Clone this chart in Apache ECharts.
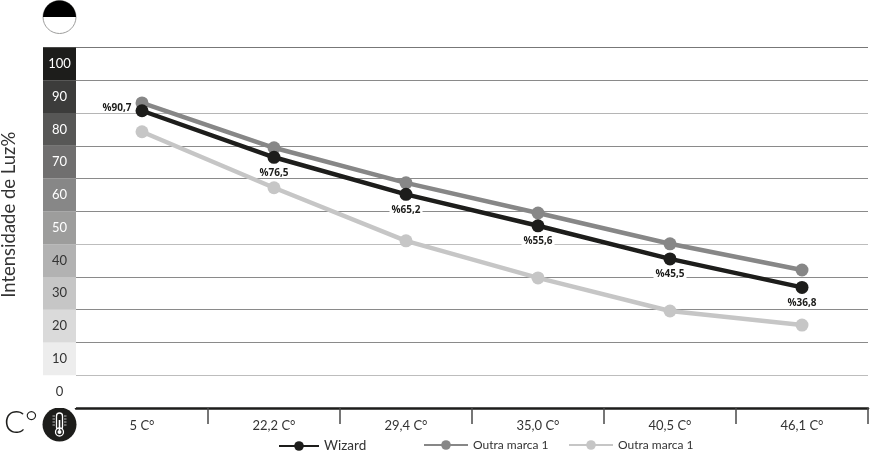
<html>
<head>
    <meta charset="utf-8">
    <title>Intensidade de Luz</title>
    <script src="https://cdn.jsdelivr.net/npm/echarts@6/dist/echarts.min.js"></script>
    <style>html,body{margin:0;padding:0;background:#fff;}</style>
</head>
<body>
    <div id="main" style="width: 870px;height:452px;"></div>
    <script type="text/javascript">
        var myChart = echarts.init(document.getElementById('main'));

        var categories = ['5 C°', '22,2 C°', '29,4 C°', '35,0 C°', '40,5 C°', '46,1 C°'];
        var wizard = [90.7, 76.5, 65.2, 55.6, 45.5, 36.8];
        var marcaEscura = [93.1, 79.4, 68.7, 59.5, 50.1, 42.1];
        var marcaClara = [84.3, 67.2, 51, 39.7, 29.6, 25.3];
        var bandLabels = ['0', '10', '20', '30', '40', '50', '60', '70', '80', '90', '100'];
        var bandColors = ['#ffffff', '#ededed', '#dadada', '#c6c6c6', '#b2b2b2', '#9d9d9c', '#878787', '#706f6f', '#575756', '#3c3c3b', '#1d1d1b'];

        var fontName = 'Lato';

        function lineSeries(name, values, color, z) {
            return {
                name: name,
                type: 'line',
                xAxisIndex: 0,
                yAxisIndex: 0,
                z: z,
                data: values,
                symbol: 'circle',
                symbolSize: 13,
                animation: false,
                lineStyle: { color: color, width: 4.5 },
                itemStyle: { color: color }
            };
        }

        // rotulos da Wizard: o primeiro fica a esquerda, os outros embaixo
        var wizardSeries = lineSeries('Wizard', wizard.map(function (v, i) {
            return {
                value: v,
                label: {
                    show: true,
                    position: i === 0 ? 'left' : 'bottom',
                    distance: i === 0 ? 2 : 4,
                    offset: i === 0 ? [0, -3] : [0, 0],
                    formatter: '%' + String(v).replace('.', ','),
                    fontFamily: 'Open Sans',
                    fontSize: 10,
                    fontWeight: 'bold',
                    color: '#1d1d1b',
                    backgroundColor: '#fff',
                    padding: [0, 2]
                }
            };
        }), '#1d1d1b', 5);

        function legendItem(name, left, width, size) {
            return {
                left: left,
                top: 439,
                padding: 0,
                itemWidth: width,
                itemHeight: 12,
                data: [name],
                // os dois "Outra marca 1" precisam de nomes distintos para a legenda
                formatter: function (n) { return n.trim(); },
                textStyle: { fontFamily: fontName, fontSize: size, color: '#333' }
            };
        }

        var option = {
            animation: false,
            legend: [
                legendItem('Wizard', 278, 40, 13.5),
                legendItem('Outra marca 1', 423, 44, 12),
                legendItem('Outra marca 1 ', 568, 44, 12)
            ],
            grid: [
                { left: 76, top: 47.5, width: 792, height: 360.5, outerBoundsMode: 'none' },
                { left: 43, top: 47.5, width: 33, height: 360.5, outerBoundsMode: 'none' }
            ],
            xAxis: [
                {
                    type: 'category',
                    gridIndex: 0,
                    data: categories,
                    axisLine: { lineStyle: { color: '#1d1d1b', width: 2.5 } },
                    axisTick: {
                        show: true,
                        length: 16,
                        interval: function (i) { return i !== 0; },
                        lineStyle: { color: '#4a4a49', width: 1.5 }
                    },
                    axisLabel: { margin: 11, fontFamily: fontName, fontSize: 13, color: '#333' }
                },
                { type: 'value', gridIndex: 1, show: false }
            ],
            yAxis: [
                {
                    type: 'value',
                    gridIndex: 0,
                    min: 0,
                    max: 110,
                    interval: 10,
                    name: 'İntensidade de Luz%',
                    nameLocation: 'middle',
                    nameGap: 57,
                    nameTextStyle: { fontFamily: fontName, fontSize: 18.5, fontWeight: 400, color: '#333', padding: [0, 0, 0, 26] },
                    axisLine: { show: false },
                    axisTick: { show: false },
                    axisLabel: { show: false },
                    splitLine: {
                        show: true,
                        lineStyle: { color: ['#000', '#bdbdbd', '#8a8a8a', '#8a8a8a', '#8a8a8a', '#bdbdbd', '#8a8a8a', '#8a8a8a', '#8a8a8a', '#b5b5b5', '#8a8a8a', '#777'], width: 1 }
                    }
                },
                {
                    type: 'category',
                    gridIndex: 1,
                    data: bandLabels,
                    z: 5,
                    axisLine: { show: false },
                    axisTick: { show: false },
                    axisLabel: {
                        inside: true,
                        align: 'center',
                        margin: 16.5,
                        fontFamily: fontName,
                        fontSize: 13,
                        color: function (v, i) {
                            return i >= 5 ? '#ffffff' : '#333333';
                        }
                    },
                    splitArea: { show: true, areaStyle: { color: bandColors, opacity: 1 } }
                }
            ],
            series: [
                lineSeries('Outra marca 1 ', marcaClara, '#c6c6c6', 2),
                lineSeries('Outra marca 1', marcaEscura, '#878787', 3),
                wizardSeries
            ],
            graphic: [
                // linha de cima continua sobre a coluna de cinzas
                { type: 'line', shape: { x1: 43, y1: 47.5, x2: 76, y2: 47.5 }, style: { stroke: '#777', lineWidth: 1 } },
                // semicirculo preto e branco no topo
                { type: 'circle', shape: { cx: 59.5, cy: 17, r: 16.5 }, style: { fill: '#fff', stroke: '#9d9d9c', lineWidth: 1 } },
                { type: 'sector', shape: { cx: 59.5, cy: 17, r: 16.5, r0: 0, startAngle: Math.PI, endAngle: Math.PI * 2 }, style: { fill: '#000' } },
                { type: 'text', left: 4, top: 407, style: { text: 'C°', font: '300 31px Lato', fill: '#1d1d1b' } },
                // termometro
                { type: 'circle', shape: { cx: 59.5, cy: 424.5, r: 17 }, style: { fill: '#1d1d1b' } },
                { type: 'rect', shape: { x: 56.5, y: 413, width: 6, height: 17, r: 3 }, style: { fill: '#1d1d1b', stroke: '#fff', lineWidth: 1.3 } },
                { type: 'circle', shape: { cx: 59.5, cy: 432, r: 4 }, style: { fill: '#1d1d1b', stroke: '#fff', lineWidth: 1.3 } },
                { type: 'circle', shape: { cx: 59.5, cy: 432, r: 2 }, style: { fill: '#fff' } },
                { type: 'rect', shape: { x: 58.7, y: 420, width: 1.6, height: 10 }, style: { fill: '#fff' } },
                { type: 'line', shape: { x1: 52.5, y1: 416, x2: 55, y2: 416 }, style: { stroke: '#bbb', lineWidth: 1 } },
                { type: 'line', shape: { x1: 52.5, y1: 419, x2: 55, y2: 419 }, style: { stroke: '#bbb', lineWidth: 1 } },
                { type: 'line', shape: { x1: 52.5, y1: 422, x2: 55, y2: 422 }, style: { stroke: '#bbb', lineWidth: 1 } },
                { type: 'line', shape: { x1: 52.5, y1: 425, x2: 55, y2: 425 }, style: { stroke: '#bbb', lineWidth: 1 } },
                { type: 'line', shape: { x1: 64, y1: 416, x2: 66.5, y2: 416 }, style: { stroke: '#bbb', lineWidth: 1 } },
                { type: 'line', shape: { x1: 64, y1: 419, x2: 66.5, y2: 419 }, style: { stroke: '#bbb', lineWidth: 1 } },
                { type: 'line', shape: { x1: 64, y1: 422, x2: 66.5, y2: 422 }, style: { stroke: '#bbb', lineWidth: 1 } },
                { type: 'line', shape: { x1: 64, y1: 425, x2: 66.5, y2: 425 }, style: { stroke: '#bbb', lineWidth: 1 } }
            ]
        };

        myChart.setOption(option);
    </script>
</body>
</html>
